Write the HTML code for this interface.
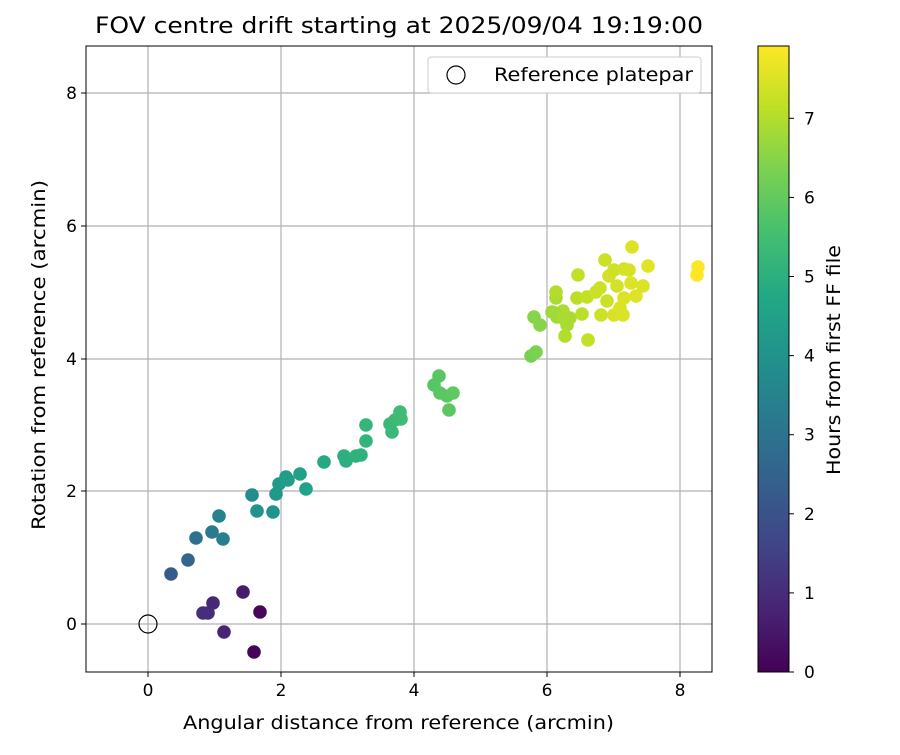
<!DOCTYPE html>
<html><head><meta charset="utf-8"><style>
body{margin:0;background:#fff;}
svg text{font-family:"DejaVu Sans","Liberation Sans",sans-serif;fill:#000;}
</style></head><body>
<svg id="s" width="900" height="750" xmlns="http://www.w3.org/2000/svg">
<defs>
<linearGradient id="vg" x1="0" y1="1" x2="0" y2="0">
<stop offset="0" stop-color="#440154"/><stop offset="0.1" stop-color="#482475"/>
<stop offset="0.2" stop-color="#414487"/><stop offset="0.3" stop-color="#355f8d"/>
<stop offset="0.4" stop-color="#2a788e"/><stop offset="0.5" stop-color="#21918c"/>
<stop offset="0.6" stop-color="#22a884"/><stop offset="0.7" stop-color="#44bf70"/>
<stop offset="0.8" stop-color="#7ad151"/><stop offset="0.9" stop-color="#bddf26"/>
<stop offset="1" stop-color="#fde725"/></linearGradient>
<clipPath id="cp"><rect x="86" y="46" width="626" height="626"/></clipPath>
</defs>
<text x="95" y="33" font-size="22" textLength="608" lengthAdjust="spacingAndGlyphs">FOV centre drift starting at 2025/09/04 19:19:00</text>
<g stroke="#b0b0b0" stroke-width="1.2">
<line x1="148" y1="46" x2="148" y2="672"/><line x1="281" y1="46" x2="281" y2="672"/>
<line x1="414" y1="46" x2="414" y2="672"/><line x1="547" y1="46" x2="547" y2="672"/>
<line x1="680" y1="46" x2="680" y2="672"/>
<line x1="86" y1="624" x2="712" y2="624"/><line x1="86" y1="491" x2="712" y2="491"/>
<line x1="86" y1="359" x2="712" y2="359"/><line x1="86" y1="226" x2="712" y2="226"/>
<line x1="86" y1="93" x2="712" y2="93"/>
</g>
<g id="pts" clip-path="url(#cp)"></g>
<circle cx="148" cy="624" r="9" fill="none" stroke="#000" stroke-width="1.2"/>
<rect x="86" y="46" width="626" height="626" fill="none" stroke="#000" stroke-width="1"/>
<g stroke="#000"><line x1="148" y1="672" x2="148" y2="677"/><line x1="281" y1="672" x2="281" y2="677"/><line x1="414" y1="672" x2="414" y2="677"/><line x1="547" y1="672" x2="547" y2="677"/><line x1="680" y1="672" x2="680" y2="677"/>
<line x1="81" y1="624" x2="86" y2="624"/><line x1="81" y1="491" x2="86" y2="491"/><line x1="81" y1="359" x2="86" y2="359"/><line x1="81" y1="226" x2="86" y2="226"/><line x1="81" y1="93" x2="86" y2="93"/></g>
<g font-size="17" text-anchor="middle"><text x="148" y="696">0</text><text x="281" y="696">2</text><text x="414" y="696">4</text><text x="547" y="696">6</text><text x="680" y="696">8</text></g>
<g font-size="17" text-anchor="end"><text x="77" y="630">0</text><text x="77" y="497">2</text><text x="77" y="365">4</text><text x="77" y="232">6</text><text x="77" y="99">8</text></g>
<text x="183" y="729" font-size="19" textLength="431" lengthAdjust="spacingAndGlyphs">Angular distance from reference (arcmin)</text>
<text transform="translate(45,530) rotate(-90)" font-size="19" textLength="350" lengthAdjust="spacingAndGlyphs">Rotation from reference (arcmin)</text>
<rect x="428" y="57" width="273" height="36" rx="3" fill="#fff" stroke="#ccc"/>
<circle cx="456" cy="75" r="9" fill="none" stroke="#000" stroke-width="1.2"/>
<text x="494" y="81" font-size="19" textLength="199" lengthAdjust="spacingAndGlyphs">Reference platepar</text>
<rect x="758" y="46" width="31" height="626" fill="url(#vg)" stroke="#000" stroke-width="1"/>
<g id="cb" font-size="17"></g>
<text transform="translate(840,475) rotate(-90)" font-size="19" textLength="230" lengthAdjust="spacingAndGlyphs">Hours from first FF file</text>
</svg>
<script>
var V=["#440154","#482475","#414487","#355f8d","#2a788e","#21918c","#22a884","#44bf70","#7ad151","#bddf26","#fde725"];
function h2r(h){return [parseInt(h.substr(1,2),16),parseInt(h.substr(3,2),16),parseInt(h.substr(5,2),16)];}
function col(hr){var t=Math.max(0,Math.min(1,hr/7.92))*10;var i=Math.min(9,Math.floor(t));var f=t-i;var a=h2r(V[i]),b=h2r(V[i+1]);return "rgb("+a.map(function(v,k){return Math.round(v+(b[k]-v)*f)}).join(",")+")";}
var P=[[254,652,0.1],[260,612,0.15],[243,592,0.6],[224,632,0.8],[213,603,0.9],[208,613,1.0],[203,613,1.05],
[171,574,2.3],[188,560,2.6],[196,538,2.9],[212,532,3.2],[219,516,3.5],[223,539,3.4],
[252,495,3.8],[257,511,4.0],[273,512,4.1],[276,494,4.2],[279,484,4.3],[286,477,4.35],[288,480,4.4],[300,474,4.5],[306,489,4.55],[324,462,4.8],
[344,456,5.0],[346,461,5.0],[356,456,5.1],[361,455,5.1],[366,441,5.15],[366,425,5.2],[390,424,5.3],[392,432,5.3],[395,420,5.35],[400,412,5.4],[401,419,5.4],
[434,385,5.8],[439,376,5.85],[440,393,5.9],[447,396,5.9],[453,393,5.95],[449,410,5.9],
[531,356,6.3],[536,352,6.35],[534,317,6.5],[540,325,6.5],[552,312,6.7],[556,298,6.9],[557,317,6.8],[560,313,6.8],[563,311,6.9],[567,325,6.9],[565,336,7.0],[556,292,7.0],[555,313,6.8],[563,318,6.9],[570,318,6.9],
[577,298,7.1],[578,275,7.2],[582,314,7.1],[587,297,7.2],[588,340,7.2],[596,292,7.3],[600,288,7.3],[601,315,7.3],[607,301,7.3],[609,276,7.4],[614,315,7.45],[617,286,7.4],[620,308,7.5],[624,298,7.5],[636,296,7.55],[623,315,7.5],
[605,260,7.3],[614,270,7.35],[624,269,7.4],[629,270,7.45],[631,283,7.5],[643,286,7.5],[648,266,7.6],[632,247,7.55],
[698,267,7.92],[697,275,7.92]];
var g=document.getElementById("pts"),s="";
P.forEach(function(p){s+='<circle cx="'+p[0]+'" cy="'+p[1]+'" r="6.8" fill="'+col(p[2])+'"/>';});
g.innerHTML=s;
var c="";for(var h=0;h<=7;h++){var y=672-h*79.1;c+='<line x1="789" y1="'+y+'" x2="794" y2="'+y+'" stroke="#000"/><text x="804" y="'+(y+6)+'">'+h+'</text>';}
document.getElementById("cb").innerHTML=c;
</script>
</body></html>
